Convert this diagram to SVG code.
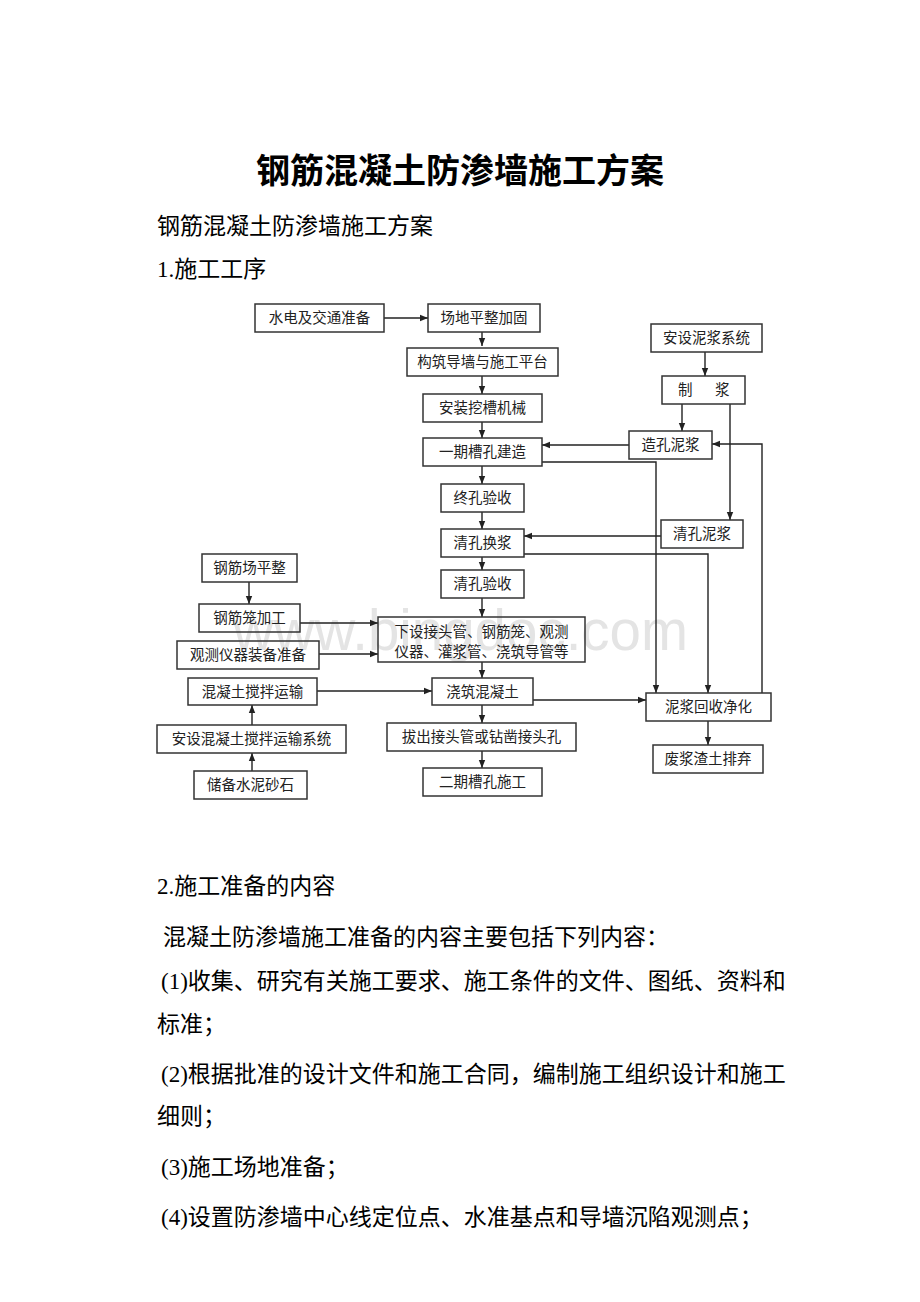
<svg xmlns="http://www.w3.org/2000/svg" width="920" height="1302" viewBox="0 0 920 1302">
<style>
.bx{fill:none;stroke:#333;stroke-width:1.5}
.lb{font-family:"Noto Sans CJK SC",sans-serif;font-size:14.5px;fill:#222;text-anchor:middle}
.ln{fill:none;stroke:#222;stroke-width:1.4}
.body{font-family:"Liberation Serif","Noto Sans CJK SC",serif;font-size:23px;fill:#000}
.wm{font-family:"Liberation Sans",sans-serif;font-size:58px;fill:#e4e4e4}
</style>
<defs>
<marker id="ah" viewBox="0 0 10 10" refX="10" refY="5" markerWidth="8" markerHeight="8" markerUnits="userSpaceOnUse" orient="auto"><path d="M0,1 L10,5 L0,9 Z" fill="#222"/></marker>
</defs>
<rect width="920" height="1302" fill="#fff"/>
<g id="page-text">
<text x="460" y="183" text-anchor="middle" style="font-family:'Liberation Serif','Noto Sans CJK SC',serif;font-size:34px;font-weight:bold;fill:#000">钢筋混凝土防渗墙施工方案</text>
<text class="body" x="157" y="234">钢筋混凝土防渗墙施工方案</text>
<text class="body" x="157" y="277">1.施工工序</text>
<text class="body" x="157" y="894">2.施工准备的内容</text>
<text class="body" x="163" y="945">混凝土防渗墙施工准备的内容主要包括下列内容：</text>
<text class="body" x="161" y="989">(1)收集、研究有关施工要求、施工条件的文件、图纸、资料和</text>
<text class="body" x="157" y="1032">标准；</text>
<text class="body" x="161" y="1082">(2)根据批准的设计文件和施工合同，编制施工组织设计和施工</text>
<text class="body" x="157" y="1124">细则；</text>
<text class="body" x="161" y="1175">(3)施工场地准备；</text>
<text class="body" x="161" y="1225">(4)设置防渗墙中心线定位点、水准基点和导墙沉陷观测点；</text>
</g>
<text class="wm" x="233" y="650" textLength="455" lengthAdjust="spacingAndGlyphs">www.bingdoc.com</text>
<g id="connectors">
<path class="ln" d="M384,318 H428" marker-end="url(#ah)"/>
<path class="ln" d="M482,332 V346" marker-end="url(#ah)"/>
<path class="ln" d="M482,376 V394" marker-end="url(#ah)"/>
<path class="ln" d="M482,422 V438" marker-end="url(#ah)"/>
<path class="ln" d="M482,466 V484" marker-end="url(#ah)"/>
<path class="ln" d="M482,512 V529" marker-end="url(#ah)"/>
<path class="ln" d="M482,557 V570" marker-end="url(#ah)"/>
<path class="ln" d="M482,598 V617" marker-end="url(#ah)"/>
<path class="ln" d="M482,662 V678" marker-end="url(#ah)"/>
<path class="ln" d="M482,705 V723" marker-end="url(#ah)"/>
<path class="ln" d="M482,751 V768" marker-end="url(#ah)"/>
<path class="ln" d="M705,352 V376" marker-end="url(#ah)"/>
<path class="ln" d="M682,404 V431" marker-end="url(#ah)"/>
<path class="ln" d="M730,404 V520" marker-end="url(#ah)"/>
<path class="ln" d="M629,445 H542" marker-end="url(#ah)"/>
<path class="ln" d="M661,536 H524" marker-end="url(#ah)"/>
<path class="ln" d="M542,462 H656 V693" marker-end="url(#ah)"/>
<path class="ln" d="M524,554 H708 V693" marker-end="url(#ah)"/>
<path class="ln" d="M533,700 H646" marker-end="url(#ah)"/>
<path class="ln" d="M762,693 V444 H712" marker-end="url(#ah)"/>
<path class="ln" d="M708,721 V745" marker-end="url(#ah)"/>
<path class="ln" d="M249,582 V604" marker-end="url(#ah)"/>
<path class="ln" d="M300,623 H378" marker-end="url(#ah)"/>
<path class="ln" d="M319,654 H378" marker-end="url(#ah)"/>
<path class="ln" d="M317,691 H432" marker-end="url(#ah)"/>
<path class="ln" d="M252,725 V705" marker-end="url(#ah)"/>
<path class="ln" d="M252,771 V753" marker-end="url(#ah)"/>
</g>
<g id="n-shuidian"><rect class="bx" x="255" y="304" width="129" height="28"/><text class="lb" x="319.5" y="323">水电及交通准备</text></g>
<g id="n-changdi"><rect class="bx" x="428" y="304" width="112" height="28"/><text class="lb" x="484" y="323">场地平整加固</text></g>
<g id="n-gouzhu"><rect class="bx" x="407" y="348" width="151" height="28"/><text class="lb" x="482.5" y="367">构筑导墙与施工平台</text></g>
<g id="n-anzhuang"><rect class="bx" x="423" y="394" width="119" height="28"/><text class="lb" x="482.5" y="413">安装挖槽机械</text></g>
<g id="n-yiqi"><rect class="bx" x="423" y="438" width="119" height="28"/><text class="lb" x="482.5" y="457">一期槽孔建造</text></g>
<g id="n-anshe-nj"><rect class="bx" x="651" y="324" width="111" height="28"/><text class="lb" x="706.5" y="343">安设泥浆系统</text></g>
<g id="n-zhijiang"><rect class="bx" x="662" y="376" width="83" height="28"/><text class="lb" style="text-anchor:start" y="395"><tspan x="678">制</tspan><tspan x="715">浆</tspan></text></g>
<g id="n-zaokong"><rect class="bx" x="629" y="431" width="83" height="28"/><text class="lb" x="670.5" y="450">造孔泥浆</text></g>
<g id="n-zhongkong"><rect class="bx" x="441" y="484" width="83" height="28"/><text class="lb" x="482.5" y="503">终孔验收</text></g>
<g id="n-qinghuan"><rect class="bx" x="441" y="529" width="83" height="28"/><text class="lb" x="482.5" y="548">清孔换浆</text></g>
<g id="n-qingnj"><rect class="bx" x="661" y="520" width="82" height="28"/><text class="lb" x="702" y="539">清孔泥浆</text></g>
<g id="n-qingyan"><rect class="bx" x="441" y="570" width="83" height="28"/><text class="lb" x="482.5" y="589">清孔验收</text></g>
<g id="n-gjcp"><rect class="bx" x="202" y="554" width="95" height="28"/><text class="lb" x="249.5" y="573">钢筋场平整</text></g>
<g id="n-gjl"><rect class="bx" x="199" y="604" width="101" height="28"/><text class="lb" x="249.5" y="623">钢筋笼加工</text></g>
<g id="n-xiashe"><rect class="bx" x="378" y="617" width="207" height="45"/><text class="lb" x="481.5" y="637">下设接头管、钢筋笼、观测</text><text class="lb" x="481.5" y="657">仪器、灌浆管、浇筑导管等</text></g>
<g id="n-guance"><rect class="bx" x="177" y="641" width="142" height="28"/><text class="lb" x="248" y="660">观测仪器装备准备</text></g>
<g id="n-hntys"><rect class="bx" x="188" y="678" width="129" height="27"/><text class="lb" x="252.5" y="696.5">混凝土搅拌运输</text></g>
<g id="n-jiaozhu"><rect class="bx" x="432" y="678" width="101" height="27"/><text class="lb" x="482.5" y="696.5">浇筑混凝土</text></g>
<g id="n-huishou"><rect class="bx" x="646" y="693" width="125" height="28"/><text class="lb" x="708.5" y="712">泥浆回收净化</text></g>
<g id="n-anshe-hnt"><rect class="bx" x="157" y="725" width="189" height="28"/><text class="lb" x="251.5" y="744">安设混凝土搅拌运输系统</text></g>
<g id="n-bachu"><rect class="bx" x="387" y="723" width="189" height="28"/><text class="lb" x="481.5" y="742">拔出接头管或钻凿接头孔</text></g>
<g id="n-feijiang"><rect class="bx" x="653" y="745" width="110" height="28"/><text class="lb" x="708" y="764">废浆渣土排弃</text></g>
<g id="n-chubei"><rect class="bx" x="194" y="771" width="113" height="28"/><text class="lb" x="250.5" y="790">储备水泥砂石</text></g>
<g id="n-erqi"><rect class="bx" x="423" y="768" width="119" height="28"/><text class="lb" x="482.5" y="787">二期槽孔施工</text></g>
</svg>
